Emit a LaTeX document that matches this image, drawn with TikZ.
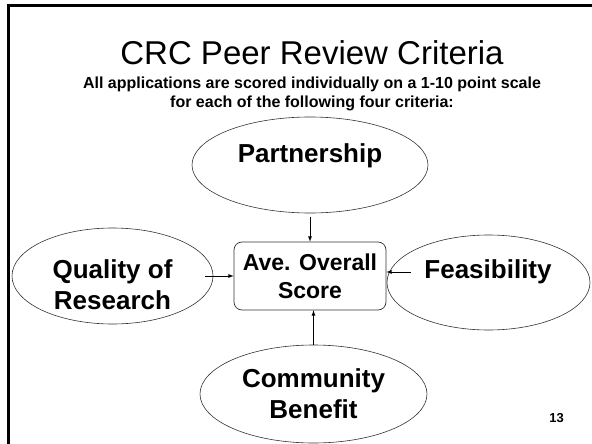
\documentclass[tikz,border=0pt]{standalone}
\usepackage{fontspec}
\setmainfont{Liberation Sans}
\usetikzlibrary{shapes.geometric,positioning}
\tikzset{
	criterion/.style = {ellipse, draw=black!80, line width=0.6pt, inner sep=0pt},
	critlabel/.style = {align=center, inner sep=0pt, font=\fontsize{26}{31}\selectfont\bfseries},
	scorebox/.style = {draw=black!80, line width=0.7pt, rounded corners=8pt, align=center, inner sep=0pt, font=\fontsize{23}{28}\selectfont\bfseries},
	feed/.style = {->, >=latex, line width=0.8pt},
	titletext/.style = {inner sep=0pt, font=\fontsize{33}{40}\selectfont},
	subtext/.style = {align=center, inner sep=0pt, font=\fontsize{16}{19}\selectfont\bfseries}
}

\begin{document}
\begin{tikzpicture}[x=1pt, y=-1pt]
\useasboundingbox (0,0) rectangle (592,444);
\draw [line width=3pt] (8.5,444) -- (8.5,5.5) -- (592,5.5);

\node [titletext, anchor=base] (title) at (312,65) {CRC Peer Review Criteria};
\node [subtext, below=10.8pt of title] (subtitle) {All applications are scored individually on a 1-10 point scale\\for each of the following four criteria:};

\node [scorebox, minimum width=152pt, minimum height=68pt] (score) at (310,276) {Ave. Overall\\Score};

\node [criterion, minimum width=236pt, minimum height=96pt] (partner) at (310,165) {};
\node [criterion, minimum width=201pt, minimum height=96pt] (quality) at (112.5,276) {};
\node [criterion, minimum width=203pt, minimum height=95pt] (feas) at (488.5,282.5) {};
\node [criterion, minimum width=227pt, minimum height=98pt] (commun) at (313.5,394) {};

\node [critlabel, anchor=base] (partnertxt) at (310,162) {Partnership};
\node [critlabel] (qualitytxt) at (112.5,285) {Quality of\\Research};
\node [critlabel, anchor=base] (feastxt) at (488,278) {Feasibility};
\node [critlabel] (communtxt) at (313.5,393.5) {Community\\Benefit};

\draw [feed] ([yshift=-4pt]partner.south) -- (partner.south |- score.north);
\draw [feed] ([xshift=-8pt]quality.east) -- (score.west);
\draw [feed] ([xshift=24pt,yshift=10.5pt]feas.west) -- ([yshift=4pt]score.east);
\draw [feed] (commun.north) -- (commun.north |- score.south);

\node [anchor=base east, inner sep=0pt, font=\fontsize{13}{15}\selectfont\bfseries] (pagenum) at (564,422) {13};
\end{tikzpicture}
\end{document}
